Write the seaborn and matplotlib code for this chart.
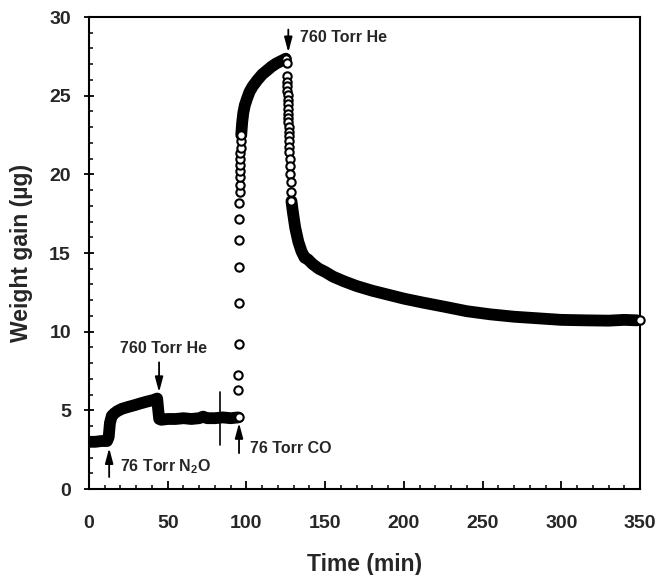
import matplotlib
matplotlib.use("Agg")
import matplotlib.pyplot as plt
from matplotlib.ticker import MultipleLocator
import seaborn as sns
import pandas as pd

# ---------------- data ----------------
# dense recorded trace before CO admission (N2O step, He purge)
pre_t = [0, 4, 8, 11.5, 12.5, 13.3, 14.5, 16, 18, 21, 25, 29, 33, 37, 41, 43.3,
         44.0, 44.6, 46, 50, 55, 60, 65, 70, 72.5, 75, 80, 85, 90, 94.8]
pre_w = [3.0, 3.0, 3.05, 3.05, 3.3, 4.2, 4.65, 4.8, 4.95, 5.1, 5.22, 5.33, 5.45, 5.56, 5.66, 5.75,
         5.0, 4.45, 4.4, 4.45, 4.45, 4.5, 4.45, 4.5, 4.6, 4.5, 4.5, 4.55, 4.5, 4.55]

# CO uptake: sparse points during the fast rise
rise_t = [95.0, 94.9, 94.9, 95.0, 95.1, 95.2, 95.3, 95.4, 95.5, 95.6, 95.7,
          95.8, 95.9, 96.0, 96.1, 96.2, 96.3, 96.5, 96.7]
rise_w = [4.6, 6.3, 7.25, 9.2, 11.85, 14.1, 15.8, 17.15, 18.2, 18.85, 19.35,
          19.8, 20.2, 20.6, 21.0, 21.35, 21.7, 22.1, 22.5]

# CO uptake: dense saturation part
sat_t = [96.7, 97.3, 98.0, 99.0, 100.5, 102, 104, 107, 110, 113, 116, 119, 122, 125]
sat_w = [22.5, 23.3, 23.9, 24.4, 24.85, 25.25, 25.6, 26.0, 26.35, 26.6, 26.85, 27.05, 27.2, 27.35]

# He purge: sparse points at the start of desorption
des_t = [125.4, 125.5, 125.7, 125.8, 125.9, 126.0, 126.1, 126.2, 126.3, 126.4, 126.5,
         126.6, 126.7, 126.8, 126.9, 127.0, 127.1, 127.2, 127.3, 127.5, 127.6, 127.8,
         128.0, 128.3, 128.6]
des_w = [27.35, 27.05, 26.25, 25.9, 25.6, 25.3, 25.05, 24.75, 24.45, 24.15, 23.85,
         23.55, 23.3, 23.0, 22.7, 22.45, 22.1, 21.75, 21.4, 20.95, 20.55, 20.0,
         19.5, 18.85, 18.3]

# He purge: dense desorption tail
tail_t = [128.6, 129.5, 131, 133, 135, 137, 139, 142, 146, 150, 155, 162, 170, 180,
          190, 200, 212, 225, 240, 255, 270, 285, 300, 315, 330, 340, 348]
tail_w = [18.3, 17.6, 16.6, 15.7, 15.1, 14.7, 14.6, 14.3, 14.0, 13.8, 13.5, 13.2, 12.9,
          12.6, 12.35, 12.1, 11.85, 11.6, 11.3, 11.1, 10.95, 10.85, 10.75, 10.72, 10.7,
          10.75, 10.72]

# last recorded point
end_t = [350]
end_w = [10.72]

# vertical break mark in the He segment
mark_t = [83.2, 83.2]
mark_w = [2.8, 6.15]

# annotations: label, text x, text y, arrow x, arrow start y, arrow end y
ann_labels = ["76 Torr N$_2$O", "760 Torr He", "76 Torr CO", "760 Torr He"]
ann_text_x = [19.7, 19.7, 102.5, 134.0]
ann_text_y = [1.4, 8.94, 2.55, 28.68]
ann_arrow_x = [12.8, 44.5, 95.3, 126.6]
ann_arrow_y0 = [0.76, 8.05, 2.28, 29.2]
ann_arrow_y1 = [2.6, 6.15, 4.2, 27.75]

x_ticks = [0, 50, 100, 150, 200, 250, 300, 350]
y_ticks = [0, 5, 10, 15, 20, 25, 30]

# ---------------- styling ----------------
sns.set_theme(style="ticks")
plt.rcParams["font.family"] = ["Liberation Sans", "DejaVu Sans"]
plt.rcParams["font.weight"] = "bold"
plt.rcParams["mathtext.fontset"] = "custom"
plt.rcParams["mathtext.rm"] = "Liberation Sans:bold"
plt.rcParams["mathtext.it"] = "Liberation Sans:bold"
plt.rcParams["mathtext.bf"] = "Liberation Sans:bold"

fig = plt.figure(figsize=(6.58, 5.75), dpi=100)
ax = fig.add_axes([89 / 658, 1 - 489 / 575, (640 - 89) / 658, (489 - 17) / 575])

band = pd.concat([
    pd.DataFrame({"t": pre_t, "w": pre_w, "seg": "pre"}),
    pd.DataFrame({"t": sat_t, "w": sat_w, "seg": "sat"}),
    pd.DataFrame({"t": tail_t, "w": tail_w, "seg": "tail"}),
], ignore_index=True)

sns.lineplot(data=band, x="t", y="w", units="seg", estimator=None, sort=False,
             color="black", lw=8.5, solid_capstyle="round", solid_joinstyle="round",
             ax=ax, legend=False)

sns.lineplot(x=mark_t, y=mark_w, estimator=None, sort=False, color="black",
             lw=1.2, ax=ax, legend=False)

circ = pd.DataFrame({"t": rise_t + des_t + end_t, "w": rise_w + des_w + end_w})
sns.scatterplot(data=circ, x="t", y="w", marker="o", s=36, color="white",
                edgecolor="black", linewidth=1.5, ax=ax, legend=False, zorder=3,
                clip_on=False)

for lab, tx, ty, axx, y0, y1 in zip(ann_labels, ann_text_x, ann_text_y,
                                    ann_arrow_x, ann_arrow_y0, ann_arrow_y1):
    ax.annotate("", xy=(axx, y1), xytext=(axx, y0),
                arrowprops=dict(arrowstyle="-|>,head_length=0.75,head_width=0.2",
                                color="black", lw=1.3, shrinkA=0, shrinkB=0))
    ax.text(tx, ty, lab, fontsize=11.5, fontweight="bold", va="center", ha="left")

ax.set_xlim(0, 350)
ax.set_ylim(0, 30)
ax.set_xticks(x_ticks)
ax.set_yticks(y_ticks)
ax.xaxis.set_minor_locator(MultipleLocator(10))
ax.yaxis.set_minor_locator(MultipleLocator(1))

ax.tick_params(axis="x", which="major", direction="in", length=6, width=1.3,
               pad=18.5, labelsize=14, color="black")
ax.tick_params(axis="x", which="minor", direction="in", length=3, width=1.1, color="black")
ax.tick_params(axis="y", which="major", direction="inout", length=7, width=1.3,
               pad=9.5, labelsize=14, color="black")
ax.tick_params(axis="y", which="minor", direction="in", length=3, width=1.1, color="black")
ax.tick_params(top=False, right=False)
for lab in ax.get_xticklabels() + ax.get_yticklabels():
    lab.set_fontweight("bold")

for sp in ax.spines.values():
    sp.set_linewidth(1.5)
    sp.set_color("black")

ax.set_xlabel("Time (min)", fontsize=16.5, fontweight="bold", labelpad=15)
ax.set_ylabel("Weight gain (µg)", fontsize=16.5, fontweight="bold", labelpad=12)

fig.savefig("out.png", dpi=100)
